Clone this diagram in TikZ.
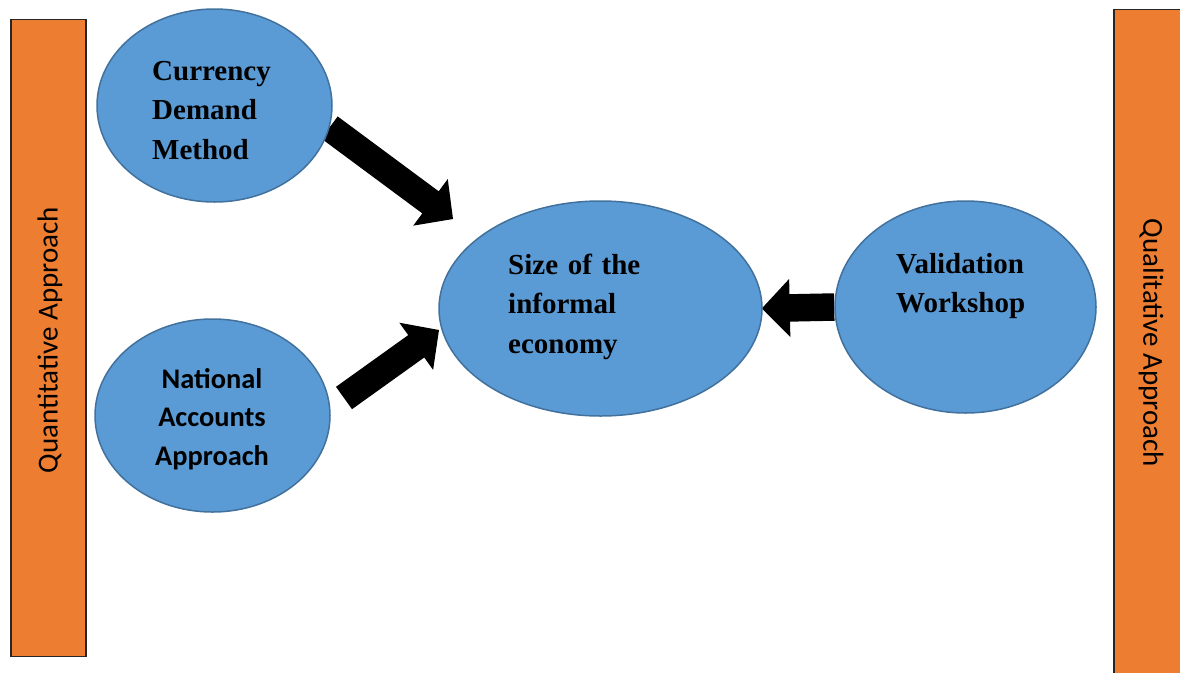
\documentclass[tikz,border=0pt]{standalone}
\usepackage{fontspec}
\setmainfont{Liberation Serif}
\newfontfamily\calfont{Carlito}
\usetikzlibrary{shapes.geometric,calc,backgrounds}
\definecolor{ellfill}{HTML}{5B9BD5}
\definecolor{elldraw}{HTML}{41719C}
\definecolor{orng}{HTML}{ED7D31}
\newcommand\blockarrow[2]{%
  \path ($(#2)!28pt!(#1)$) coordinate (#1h);
  \fill[black] ($(#1)!13.75pt!90:(#2)$) -- ($(#1h)!13.75pt!90:(#2)$) -- ($(#1h)!29pt!90:(#2)$) -- (#2)
    -- ($(#1h)!29pt!-90:(#2)$) -- ($(#1h)!13.75pt!-90:(#2)$) -- ($(#1)!13.75pt!-90:(#2)$) -- cycle;}
\begin{document}
\begin{tikzpicture}[x=1pt,y=-1pt,
  ell/.style={ellipse, fill=ellfill, draw=elldraw, line width=1.5pt, inner sep=0pt},
  side/.style={fill=orng, draw=black!85, line width=1.2pt, inner sep=0pt},
  serlbl/.style={font=\rmfamily\bfseries\fontsize{29}{39.5}\selectfont, text width=190pt, align=left, anchor=base west, inner sep=0pt},
  callbl/.style={font=\calfont\bfseries\fontsize{28.4}{38.5}\selectfont, text width=190pt, align=center, anchor=base, inner sep=0pt},
  sidelbl/.style={font=\calfont\fontsize{29}{29}\selectfont, inner sep=0pt}]
\useasboundingbox (0,0) rectangle (1180,672);
% side bars
\node[side, minimum width=75pt, minimum height=637pt] (lrect) at (48.5,338) {};
\node[side, minimum width=90pt, minimum height=700pt] (rrect) at (1159,359.5) {};
\node[sidelbl, rotate=90] (qtl) at (50,340) {Quantitative Approach};
\node[sidelbl, rotate=-90] (qll) at (1151,343) {Qualitative Approach};
% ellipses
\node[ell, minimum width=235pt, minimum height=193pt] (cur) at (214.5,105.5) {};
\node[ell, minimum width=235pt, minimum height=193pt] (nat) at (212.5,415.5) {};
\node[ell, minimum width=323pt, minimum height=215pt] (size) at (600.5,308.5) {};
\node[ell, minimum width=261pt, minimum height=212pt] (val) at (965.5,307) {};
% texts
\node[serlbl] (curt) at (152,80) {Currency\\Demand\\Method};
\node[serlbl] (sizet) at (508,274) {Size of the\\informal\\economy};
\node[serlbl] (valt) at (896,273) {Validation\\Workshop};
\node[callbl] (natt) at (212,388) {National\\Accounts\\Approach};
% arrows
\coordinate (s1) at (329.5,127.5);
\coordinate (t1) at (453,219);
\coordinate (s2) at (344,398);
\coordinate (t2) at (439,330);
\coordinate (s3) at (val.west);
\coordinate (t3) at ($(size.east)+(-1,0)$);
\begin{scope}[on background layer]
\blockarrow{s1}{t1}
\blockarrow{s2}{t2}
\blockarrow{s3}{t3}
\end{scope}
\end{tikzpicture}
\end{document}
